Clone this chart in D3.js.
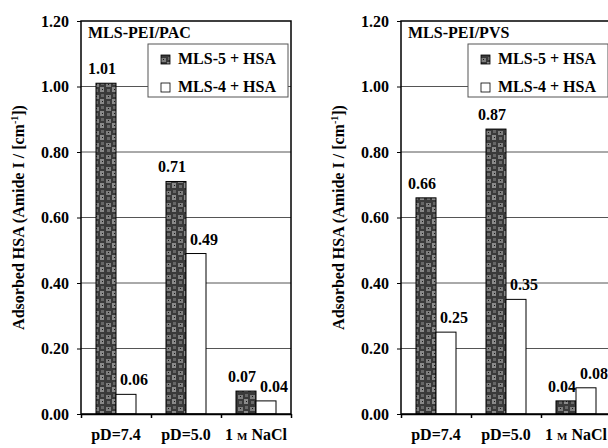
<!DOCTYPE html>
<html>
<head>
<meta charset="utf-8">
<script src="https://cdn.jsdelivr.net/npm/d3@7"></script>
</head>
<body style="margin:0">
<script>
// chart data
var categories = ["pD=7.4", "pD=5.0", "1 M NaCl"];
var seriesNames = ["MLS-5 + HSA", "MLS-4 + HSA"];
var panelTitles = ["MLS-PEI/PAC", "MLS-PEI/PVS"];
var pacMls5 = [1.01, 0.71, 0.07];
var pacMls4 = [0.06, 0.49, 0.04];
var pvsMls5 = [0.66, 0.87, 0.04];
var pvsMls4 = [0.25, 0.35, 0.08];
var yTicks = [0, 0.2, 0.4, 0.6, 0.8, 1.0, 1.2];

var panels = [
  { title: panelTitles[0], values: [pacMls5, pacMls4] },
  { title: panelTitles[1], values: [pvsMls5, pvsMls4] }
];

var svgWidth = 608;
var svgHeight = 448;
var serif = "Times New Roman";

// margins of one panel's plot area
var margin = { top: 21, left: 81 };
var width = 210;
var height = 393;
var panelShift = 320;

var svg = d3.select("body")
  .append("svg")
  .attr("width", svgWidth)
  .attr("height", svgHeight);

// mottled texture for the dark bars (scanned look)
var defs = svg.append("defs");
var pat = defs.append("pattern")
  .attr("id", "dark")
  .attr("patternUnits", "userSpaceOnUse")
  .attr("width", 12)
  .attr("height", 12);
pat.append("rect").attr("width", 12).attr("height", 12).attr("fill", "#3a3a3a");
pat.append("rect").attr("x", 1).attr("y", 2).attr("width", 5).attr("height", 4).attr("fill", "#7e7e7e");
pat.append("rect").attr("x", 7).attr("y", 6).attr("width", 4).attr("height", 5).attr("fill", "#8a8a8a");
pat.append("rect").attr("x", 2).attr("y", 8).attr("width", 3).attr("height", 3).attr("fill", "#6a6a6a");
pat.append("rect").attr("x", 8).attr("y", 1).attr("width", 3).attr("height", 3).attr("fill", "#666");
pat.append("rect").attr("x", 3).attr("y", 3).attr("width", 1).attr("height", 1).attr("fill", "#1a1a1a");
pat.append("rect").attr("x", 9).attr("y", 8).attr("width", 1).attr("height", 1).attr("fill", "#1a1a1a");

var yScale = d3.scaleLinear().domain([0, 1.2]).range([height, 0]);
var xScale = d3.scaleBand().domain(categories).range([0, width]);
var xSub = d3.scaleBand().domain(seriesNames).range([15, 55]);
var fills = ["url(#dark)", "#fff"];
var labelShift = [-4, 8];

function serifText(sel, size) {
  return sel.attr("font-family", serif)
    .attr("font-weight", "bold")
    .attr("font-size", size)
    .attr("fill", "#000")
    .style("font-family", serif)
    .style("font-weight", "bold");
}

panels.forEach(function(p, i) {
  var g = svg.append("g")
    .attr("transform", `translate(${margin.left + i * panelShift}, ${margin.top})`);

  // gridlines
  g.selectAll(".grid")
    .data(yTicks.filter(d => d > 0 && d < 1.2))
    .enter()
    .append("line")
    .attr("x1", 0)
    .attr("x2", width)
    .attr("y1", d => yScale(d))
    .attr("y2", d => yScale(d))
    .attr("stroke", "#555")
    .attr("stroke-width", 1);

  // y axis
  var leftAxis = d3.axisLeft(yScale)
    .tickValues(yTicks)
    .tickFormat(d3.format(".2f"))
    .tickSize(4)
    .tickPadding(8);
  var yAxis = g.append("g").call(leftAxis)
    .attr("font-family", serif)
    .attr("font-size", 16);
  yAxis.select(".domain").remove();
  yAxis.selectAll("line").attr("stroke", "#000");
  serifText(yAxis.selectAll("text"), 16);

  // bars
  seriesNames.forEach(function(s, k) {
    var vals = p.values[k];
    g.selectAll(".bar" + k)
      .data(vals)
      .enter()
      .append("rect")
      .attr("x", (d, j) => xScale(categories[j]) + xSub(s))
      .attr("y", d => yScale(d))
      .attr("width", xSub.bandwidth())
      .attr("height", d => height - yScale(d))
      .attr("fill", fills[k])
      .attr("stroke", "#000")
      .attr("stroke-width", 1);

    serifText(g.selectAll(".val" + k)
      .data(vals)
      .enter()
      .append("text"), 16)
      .attr("x", (d, j) => xScale(categories[j]) + xSub(s) + xSub.bandwidth() / 2 + labelShift[k])
      .attr("y", d => yScale(d) - 9)
      .attr("text-anchor", "middle")
      .text(d => d.toFixed(2));
  });

  // x axis with ticks at category edges
  var bottomAxis = d3.axisBottom(d3.scaleLinear().domain([0, 3]).range([0, width]))
    .tickValues([0, 1, 2, 3])
    .tickFormat("")
    .tickSize(4)
    .tickSizeOuter(0);
  var xAxis = g.append("g")
    .attr("transform", `translate(0, ${height})`)
    .call(bottomAxis);
  xAxis.selectAll("line,path").attr("stroke", "#000").attr("stroke-width", 1.5);

  // category labels
  var cats = serifText(g.selectAll(".cat")
    .data(categories)
    .enter()
    .append("text"), 16)
    .attr("x", d => xScale(d) + xScale.bandwidth() / 2)
    .attr("y", height + 26)
    .attr("text-anchor", "middle");
  cats.each(function(d) {
    var t = d3.select(this);
    if (d.indexOf(" M ") > 0) {
      var parts = d.split(" M ");
      t.append("tspan").text(parts[0] + " ");
      t.append("tspan").attr("font-size", 11).text("M");
      t.append("tspan").text(" " + parts[1]);
    } else {
      t.text(d);
    }
  });

  // frame
  g.append("rect")
    .attr("x", 0)
    .attr("y", 0)
    .attr("width", width)
    .attr("height", height)
    .attr("fill", "none")
    .attr("stroke", "#000")
    .attr("stroke-width", 1.5);

  // panel title
  serifText(g.append("text"), 16)
    .attr("x", 7)
    .attr("y", 17)
    .text(p.title);

  // legend
  var legend = g.append("g").attr("transform", "translate(67, 23)");
  legend.append("rect")
    .attr("width", 140)
    .attr("height", 53)
    .attr("fill", "#fff")
    .attr("stroke", "#555")
    .attr("stroke-width", 1);
  seriesNames.forEach(function(s, k) {
    legend.append("rect")
      .attr("x", 13)
      .attr("y", 11 + k * 28)
      .attr("width", 9)
      .attr("height", 9)
      .attr("fill", fills[k])
      .attr("stroke", "#000")
      .attr("stroke-width", 0.8);
    serifText(legend.append("text"), 16)
      .attr("x", 30)
      .attr("y", 20 + k * 28)
      .text(s);
  });

  // y axis title
  var yt = serifText(svg.append("text"), 16)
    .attr("transform", `translate(${24 + i * panelShift}, ${margin.top + height / 2}) rotate(-90)`)
    .attr("text-anchor", "middle");
  yt.append("tspan").text("Adsorbed HSA (Amide I / [cm");
  yt.append("tspan").attr("font-size", 10).attr("dy", -6).text("-1");
  yt.append("tspan").attr("dy", 6).text("])");
});
</script>
</body>
</html>
